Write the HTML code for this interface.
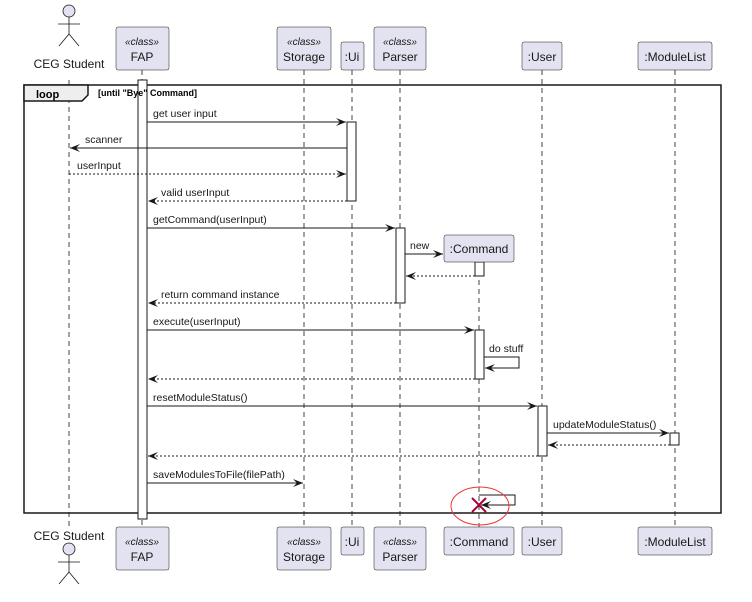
<!DOCTYPE html>
<html><head><style>body{margin:0;background:#fff}svg{display:block;font-family:"Liberation Sans",sans-serif}</style></head><body>
<svg width="752" height="602" viewBox="0 0 752 602" xmlns="http://www.w3.org/2000/svg">
<defs><marker id="a" viewBox="0 0 10 10" refX="10" refY="5" markerWidth="10" markerHeight="10" orient="auto" markerUnits="userSpaceOnUse"><path d="M0,1 L10,5 L0,9 L4,5 Z" fill="#181818"/></marker></defs>
<g stroke="#444" stroke-width="1" stroke-dasharray="5,4" fill="none">
<line x1="69" y1="80" x2="69" y2="527"/><line x1="142" y1="70" x2="142" y2="527"/><line x1="304" y1="70" x2="304" y2="527"/><line x1="352" y1="70" x2="352" y2="527"/><line x1="400" y1="70" x2="400" y2="527"/><line x1="479" y1="262" x2="479" y2="527"/><line x1="542" y1="70" x2="542" y2="527"/><line x1="675" y1="70" x2="675" y2="527"/>
</g>
<rect x="24" y="85" width="697" height="428" fill="none" stroke="#181818" stroke-width="1.5"/>
<path d="M24,85 H88 V95 L82,101 H24 Z" fill="#eee" stroke="#181818" stroke-width="1.5"/>
<text x="36" y="98" font-size="11" font-weight="bold">loop</text>
<g fill="#fff" stroke="#181818">
<rect x="138" y="80" width="9" height="439"/><rect x="347" y="122" width="9" height="79"/><rect x="396" y="228" width="9" height="75"/><rect x="475" y="262" width="9" height="14"/><rect x="475" y="330" width="9" height="49"/><rect x="538" y="406" width="9" height="50"/><rect x="670" y="433" width="9" height="12"/>
</g>
<text x="98" y="96" font-size="9" font-weight="bold">[until "Bye" Command]</text>
<g fill="#e2e2f0" stroke="#181818" stroke-width="0.5">
<rect x="116" y="27" width="53" height="43" rx="2"/><rect x="277" y="27" width="54" height="43" rx="2"/><rect x="341" y="42" width="23" height="28" rx="2"/><rect x="374" y="27" width="52" height="43" rx="2"/><rect x="522" y="42" width="40" height="28" rx="2"/><rect x="638" y="42" width="74" height="28" rx="2"/>
<rect x="444" y="235" width="70" height="27" rx="2"/>
<rect x="116" y="527" width="53" height="43" rx="2"/><rect x="277" y="527" width="54" height="43" rx="2"/><rect x="341" y="527" width="23" height="28" rx="2"/><rect x="374" y="527" width="52" height="43" rx="2"/><rect x="444" y="527" width="70" height="28" rx="2"/><rect x="522" y="527" width="40" height="28" rx="2"/><rect x="638" y="527" width="74" height="28" rx="2"/>
</g>
<g font-size="12" fill="#181818" text-anchor="middle">
<text x="142" y="45" font-size="10" font-style="italic">«class»</text><text x="142" y="61">FAP</text>
<text x="304" y="45" font-size="10" font-style="italic">«class»</text><text x="304" y="61">Storage</text>
<text x="352" y="61">:Ui</text>
<text x="400" y="45" font-size="10" font-style="italic">«class»</text><text x="400" y="61">Parser</text>
<text x="542" y="61">:User</text><text x="675" y="61">:ModuleList</text>
<text x="479" y="253">:Command</text>
<text x="142" y="545" font-size="10" font-style="italic">«class»</text><text x="142" y="561">FAP</text>
<text x="304" y="545" font-size="10" font-style="italic">«class»</text><text x="304" y="561">Storage</text>
<text x="352" y="546">:Ui</text>
<text x="400" y="545" font-size="10" font-style="italic">«class»</text><text x="400" y="561">Parser</text>
<text x="479" y="546">:Command</text><text x="542" y="546">:User</text><text x="675" y="546">:ModuleList</text>
<text x="69" y="68">CEG Student</text><text x="69" y="540">CEG Student</text>
</g>
<g fill="#e2e2f0" stroke="#181818" stroke-width="0.8">
<circle cx="69" cy="11" r="6"/><path d="M69,17 V34 M58,24 H80 M69,34 L59,46 M69,34 L79,46" fill="none"/>
<circle cx="69" cy="549" r="6"/><path d="M69,555 V572 M58,562 H80 M69,572 L59,584 M69,572 L79,584" fill="none"/>
</g>
<g stroke="#181818" fill="none" marker-end="url(#a)">
<line x1="147" y1="122" x2="346" y2="122"/>
<line x1="347" y1="148" x2="70" y2="148"/>
<line x1="69" y1="174" x2="346" y2="174" stroke-dasharray="2,2"/>
<line x1="347" y1="201" x2="148" y2="201" stroke-dasharray="2,2"/>
<line x1="147" y1="228" x2="395" y2="228"/>
<line x1="405" y1="254" x2="443" y2="254"/>
<line x1="475" y1="276" x2="406" y2="276" stroke-dasharray="2,2"/>
<line x1="396" y1="303" x2="148" y2="303" stroke-dasharray="2,2"/>
<line x1="147" y1="330" x2="474" y2="330"/>
<path d="M484,357 H519 V368 H485"/>
<line x1="475" y1="379" x2="148" y2="379" stroke-dasharray="2,2"/>
<line x1="147" y1="406" x2="537" y2="406"/>
<line x1="547" y1="433" x2="669" y2="433"/>
<line x1="670" y1="445" x2="548" y2="445" stroke-dasharray="2,2"/>
<line x1="538" y1="456" x2="148" y2="456" stroke-dasharray="2,2"/>
<line x1="147" y1="483" x2="303" y2="483"/>
<path d="M479,495 H515 V505 H481"/>
</g>
<g font-size="10.5" fill="#181818">
<text x="153" y="117">get user input</text><text x="85" y="143">scanner</text><text x="77" y="169">userInput</text><text x="161" y="196">valid userInput</text>
<text x="153" y="223">getCommand(userInput)</text><text x="410" y="249">new</text><text x="161" y="298">return command instance</text>
<text x="153" y="325">execute(userInput)</text><text x="489" y="352">do stuff</text><text x="153" y="401">resetModuleStatus()</text>
<text x="553" y="428">updateModuleStatus()</text><text x="153" y="478">saveModulesToFile(filePath)</text>
</g>
<path d="M472,498 L486,512 M486,498 L472,512" stroke="#a80036" stroke-width="2"/>
<ellipse cx="480" cy="506" rx="29" ry="19" fill="none" stroke="#e33" stroke-width="1"/>
</svg>
</body></html>
